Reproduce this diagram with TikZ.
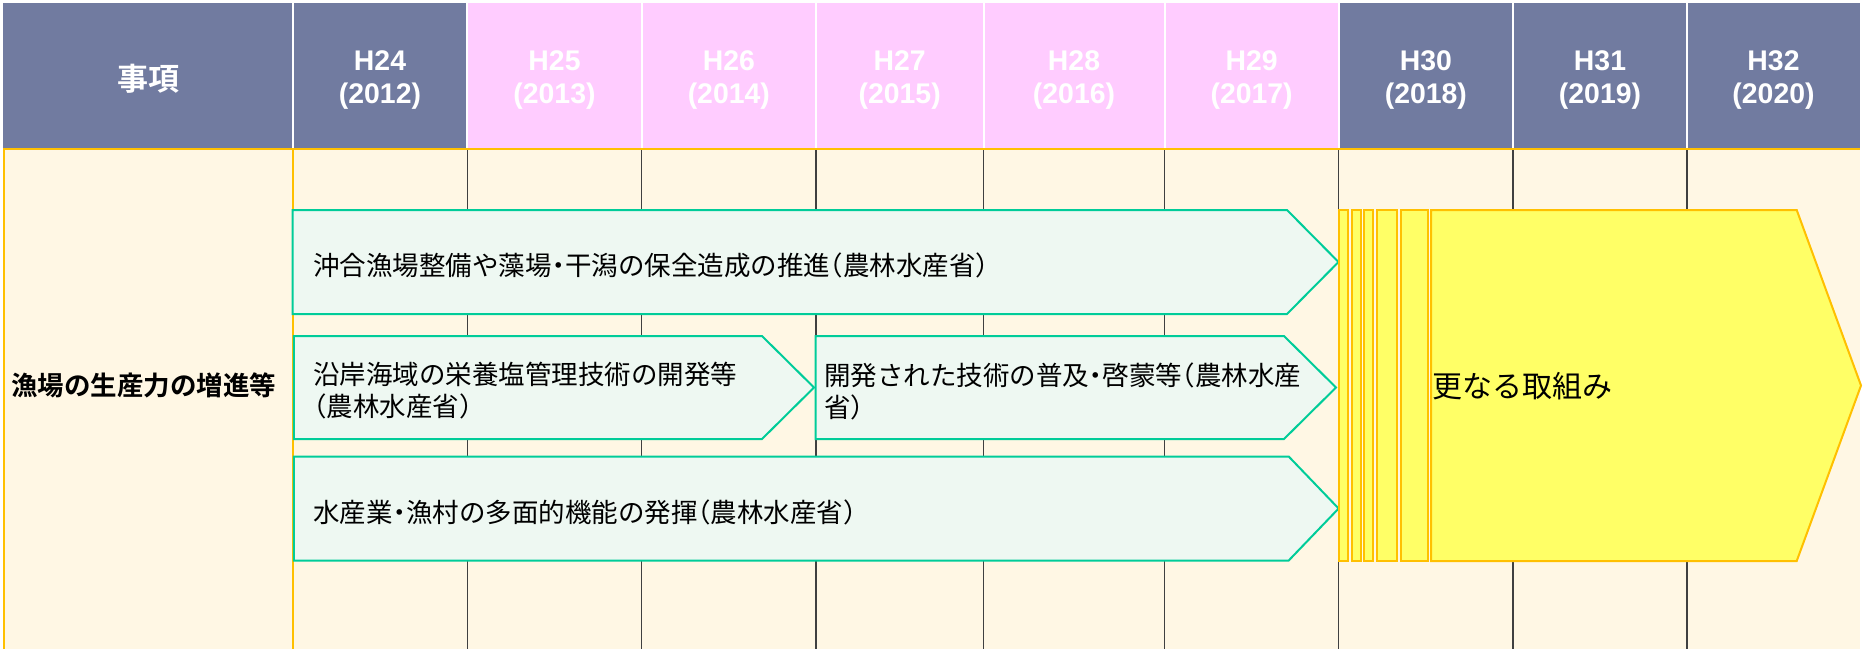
\documentclass[tikz,border=0pt]{standalone}
\usepackage{fontspec}
\setmainfont{Liberation Sans}
\newfontfamily\jp{Noto Sans CJK JP}[RawFeature={+halt}]
\newfontfamily\jpb{Noto Sans CJK JP Bold}[RawFeature={+halt}]
\definecolor{hdrblue}{RGB}{113,123,160}
\definecolor{hdrpink}{RGB}{255,204,255}
\definecolor{cream}{RGB}{255,247,228}
\definecolor{orng}{RGB}{255,192,0}
\definecolor{grn}{RGB}{0,204,153}
\definecolor{mint}{RGB}{238,248,242}
\definecolor{yel}{RGB}{255,255,102}
\definecolor{gridg}{RGB}{64,64,64}
\begin{document}
\begin{tikzpicture}[x=0.5pt,y=-0.5pt,
  hdr/.style={text=white,align=center,inner sep=0pt,
    font=\bfseries\fontsize{14.2}{16.5}\selectfont},
  garrow/.style={draw=grn,fill=mint,line width=1pt,line join=miter},
  yelbox/.style={draw=orng,fill=yel,line width=1pt},
  jtxt/.style={anchor=west,align=left,inner sep=0pt,
    font=\jp\fontsize{13.25}{16}\selectfont}]
\useasboundingbox (0,0) rectangle (1874,649);
\fill[white] (0,0) rectangle (1874,649);
% header
\fill[hdrblue] (3,3) rectangle (467.4,148);
\fill[hdrpink] (467.4,3) rectangle (1338.8,148);
\fill[hdrblue] (1338.8,3) rectangle (1860,148);
\foreach \x in {292.7,467.4,641.7,816,983.5,1164.5,1338.8,1513,1687}
  \draw[white,line width=1pt] (\x,3) -- (\x,148);
% body
\fill[cream] (3,149) rectangle (1860,649);
\foreach \x in {467.4,641.7,816,983.5,1164.5,1338.8,1513,1687}
  \draw[gridg,line width=0.6pt] (\x,149) -- (\x,649);
\draw[orng,line width=1pt] (3.8,649) -- (3.8,149) -- (1860,149);
\draw[orng,line width=1pt] (292.7,149) -- (292.7,649);
% header texts
\node[hdr,font=\jpb\fontsize{15.5}{18}\selectfont] (hj) at (148,78.5) {事項};
\node[hdr] (h24) at (380,80) {H24\\(2012)};
\node[hdr] (h25) at (554.5,80) {H25\\(2013)};
\node[hdr] (h26) at (728.8,80) {H26\\(2014)};
\node[hdr] (h27) at (899.7,80) {H27\\(2015)};
\node[hdr] (h28) at (1074,80) {H28\\(2016)};
\node[hdr] (h29) at (1251.6,80) {H29\\(2017)};
\node[hdr] (h30) at (1425.9,80) {H30\\(2018)};
\node[hdr] (h31) at (1600,80) {H31\\(2019)};
\node[hdr] (h32) at (1773.5,80) {H32\\(2020)};
% row label
\node[anchor=west,inner sep=0pt,font=\jpb\fontsize{13.25}{16}\selectfont] (lab) at (11,385) {漁場の生産力の増進等};
% green arrows
\draw[garrow] (292.6,210) -- (1287,210) -- (1338.5,262) -- (1287,314) -- (292.6,314) -- cycle;
\draw[garrow] (293.8,336) -- (762,336) -- (814,387.5) -- (762,439) -- (293.8,439) -- cycle;
\draw[garrow] (815.5,336) -- (1284,336) -- (1336,387.5) -- (1284,439) -- (815.5,439) -- cycle;
\draw[garrow] (293.8,456.5) -- (1288.7,456.5) -- (1338.6,508.5) -- (1288.7,560.5) -- (293.8,560.5) -- cycle;
\node[jtxt] (t1) at (313,265) {沖合漁場整備や藻場・干潟の保全造成の推進（農林水産省）};
\node[jtxt] (t2) at (313,391) {沿岸海域の栄養塩管理技術の開発等\\（農林水産省）};
\node[jtxt] (t3) at (824,391) {開発された技術の普及・啓蒙等（農林水産\\省）};
\node[jtxt] (t4) at (313,512) {水産業・漁村の多面的機能の発揮（農林水産省）};
% yellow part
\draw[yelbox] (1339.2,210) rectangle (1348.3,561);
\draw[yelbox] (1352,210) rectangle (1360.8,561);
\draw[yelbox] (1364.4,210) rectangle (1373.2,561);
\draw[yelbox] (1377.2,210) rectangle (1397.4,561);
\draw[yelbox] (1401.4,210) rectangle (1427.7,561);
\draw[yelbox,line join=miter] (1431,210) -- (1796.7,210) -- (1861,385.5) -- (1796.7,561) -- (1431,561) -- cycle;
\node[anchor=west,inner sep=0pt,font=\jp\fontsize{15}{18}\selectfont] (t5) at (1432,386) {更なる取組み};
\end{tikzpicture}
\end{document}
